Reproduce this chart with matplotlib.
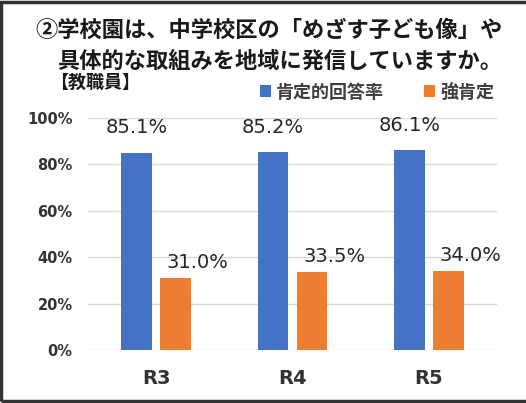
import matplotlib.pyplot as plt
from matplotlib.patches import Rectangle
import numpy as np

plt.rcParams['font.family'] = ['Noto Sans CJK JP', 'DejaVu Sans']

categories = ['R3', 'R4', 'R5']
positive = [85.1, 85.2, 86.1]
strong = [31.0, 33.5, 34.0]
series_names = ['肯定的回答率', '強肯定']
yticks = [0, 20, 40, 60, 80, 100]

blue = '#4472C4'
orange = '#ED7D31'

fig = plt.figure(figsize=(5.26, 4.03), dpi=100)
ax = fig.add_axes([0.167, 0.1315, 0.778, 0.5755])

x = np.arange(len(categories))
w = 0.225
gap = 0.03
b1 = ax.bar(x - w / 2 - gap, positive, w, color=blue, label=series_names[0], zorder=3)
b2 = ax.bar(x + w / 2 + gap, strong, w, color=orange, label=series_names[1], zorder=3)

# data labels
for rect, v in zip(b1, positive):
    ax.annotate(f'{v:.1f}%', (rect.get_x() + rect.get_width() / 2, v),
                xytext=(0, 18), textcoords='offset points', ha='center', va='center',
                fontsize=14, color='#262626', family='DejaVu Sans')
for rect, v in zip(b2, strong):
    ax.annotate(f'{v:.1f}%', (rect.get_x() + rect.get_width() / 2, v),
                xytext=(16, 11.5), textcoords='offset points', ha='center', va='center',
                fontsize=14, color='#262626', family='DejaVu Sans')

ax.set_ylim(0, 100)
ax.set_xlim(-0.5, len(categories) - 0.5)
ax.set_yticks(yticks)
ax.set_yticklabels([f'{t}%' for t in yticks], fontsize=10.5, fontweight='bold',
                   color='#333333', family='DejaVu Sans')
ax.set_xticks(x)
ax.set_xticklabels(categories, fontsize=14, fontweight='bold', color='#333333',
                   family='DejaVu Sans')
ax.tick_params(length=0)
ax.tick_params(axis='y', pad=11)
ax.tick_params(axis='x', pad=14)
ax.yaxis.grid(True, color='#D9D9D9', linewidth=1, zorder=0)
for s in ax.spines.values():
    s.set_visible(False)

# title
fig.text(35 / 526, 1 - 30 / 403, '②学校園は、中学校区の「めざす子ども像」や',
         fontsize=16, fontweight='bold', va='center', ha='left', color='#1a1a1a')
fig.text(57 / 526, 1 - 61 / 403, '具体的な取組みを地域に発信していますか。',
         fontsize=16, fontweight='bold', va='center', ha='left', color='#1a1a1a')
fig.text(50 / 526, 1 - 82 / 403, '【教職員】',
         fontsize=13, fontweight='bold', va='center', ha='left', color='#1a1a1a')

fig.legend(handles=[b1, b2], labels=series_names, loc='center',
           bbox_to_anchor=(377 / 526, 1 - 92 / 403), ncol=2, frameon=False,
           prop={'size': 13, 'weight': 'bold'}, handlelength=0.6, handleheight=0.6,
           handletextpad=0.3, columnspacing=2.2, labelcolor='#404040')

# outer frame
fig.patches.append(Rectangle((0.002, 0.006), 1.1, 0.99, transform=fig.transFigure,
                             fill=False, edgecolor='#333333', linewidth=2.5))

fig.savefig('out.png', dpi=100, facecolor='white')
